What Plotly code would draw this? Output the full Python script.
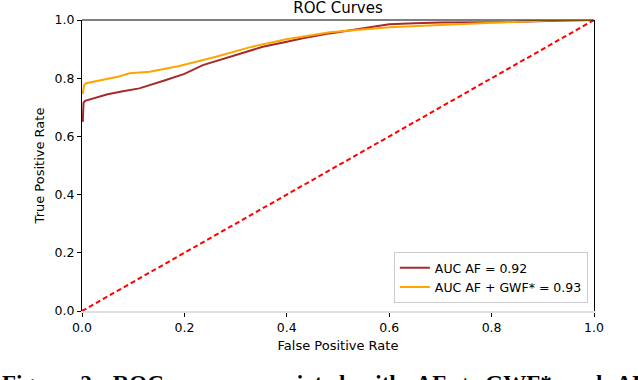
import plotly.graph_objects as go

# ROC curve points (the part below the jump at x=0 hides under the spine)
af_fpr = [0.0015, 0.003, 0.006, 0.02, 0.05, 0.08, 0.112, 0.164, 0.2, 0.236, 0.3,
          0.353, 0.4, 0.431, 0.484, 0.55, 0.6, 0.65, 0.7, 0.8, 0.874, 0.95, 1.0]
af_tpr = [0.65, 0.715, 0.722, 0.73, 0.745, 0.755, 0.765, 0.794, 0.815, 0.845, 0.88,
          0.908, 0.925, 0.937, 0.954, 0.972, 0.985, 0.989, 0.991, 0.992, 0.994, 0.998, 1.0]

gwf_fpr = [0.0015, 0.004, 0.008, 0.02, 0.041, 0.07, 0.093, 0.132, 0.19, 0.262, 0.327,
           0.399, 0.484, 0.55, 0.6, 0.7, 0.776, 0.85, 0.92, 1.0]
gwf_tpr = [0.745, 0.775, 0.783, 0.787, 0.794, 0.805, 0.817, 0.822, 0.842, 0.874, 0.906,
           0.934, 0.958, 0.967, 0.975, 0.983, 0.989, 0.994, 0.999, 1.0]

chance = [0.0, 1.0]

series_names = ["AUC AF = 0.92", "AUC AF + GWF* = 0.93"]
title = "ROC Curves"
caption = "Figure 2: ROC curve associated with AF + GWF* and AF"
tick_vals = [0.0, 0.2, 0.4, 0.6, 0.8, 1.0]

font = "DejaVu Sans"

fig = go.Figure()
fig.add_trace(go.Scatter(x=af_fpr, y=af_tpr, mode="lines", name=series_names[0],
                         line=dict(color="#a52a2a", width=2)))
fig.add_trace(go.Scatter(x=gwf_fpr, y=gwf_tpr, mode="lines", name=series_names[1],
                         line=dict(color="#ffa500", width=2)))
fig.add_trace(go.Scatter(x=chance, y=chance, mode="lines", showlegend=False,
                         line=dict(color="#ff0000", width=2, dash="5px,3px")))

fig.update_layout(
    width=638,
    height=380,
    margin=dict(l=82, r=44, t=20, b=69),
    plot_bgcolor="white",
    paper_bgcolor="white",
    font=dict(family=font, size=12.5, color="black"),
    title=dict(text=title, x=0.5, xanchor="center", xref="paper",
               y=1 - 7.5 / 380, yref="container", yanchor="middle",
               font=dict(size=15)),
    legend=dict(x=0.988, y=0.027, xanchor="right", yanchor="bottom",
                bordercolor="#cccccc", borderwidth=1, bgcolor="white",
                font=dict(size=12.5), tracegroupgap=0),
    showlegend=True,
)
fig.update_xaxes(
    range=[0, 1], tickvals=tick_vals, ticktext=[f"{v:.1f}" for v in tick_vals],
    showgrid=False, zeroline=False, showline=True, linecolor="#e0e0e0", linewidth=2,
    ticks="outside", ticklen=4, tickcolor="black", tickwidth=1,
    title=dict(text="False Positive Rate", standoff=7, font=dict(size=13)),
)
fig.update_yaxes(
    range=[0, 1], tickvals=tick_vals, ticktext=[f"{v:.1f}" for v in tick_vals],
    showgrid=False, zeroline=False, showline=True, linecolor="black", linewidth=1,
    mirror=True, ticks="outside", ticklen=4, tickcolor="black", tickwidth=1,
    title=dict(text="True Positive Rate", standoff=7, font=dict(size=13)),
)
# top spine
fig.add_shape(type="line", xref="paper", yref="paper", x0=0, x1=1, y0=1, y1=1,
              line=dict(color="black", width=1))
# figure caption (justified in the paper, so wider word gaps), cut by the bottom edge
fig.add_annotation(text="<b>" + caption.replace(" ", " \u2004") + "</b>",
                   xref="paper", yref="paper",
                   x=-82 / 512, xanchor="left", y=-58 / 291, yanchor="top",
                   showarrow=False,
                   font=dict(family="Liberation Serif", size=23, color="black"))

fig.write_html("out.html", config={"displayModeBar": False},
               post_script="document.body.style.margin='0';")
